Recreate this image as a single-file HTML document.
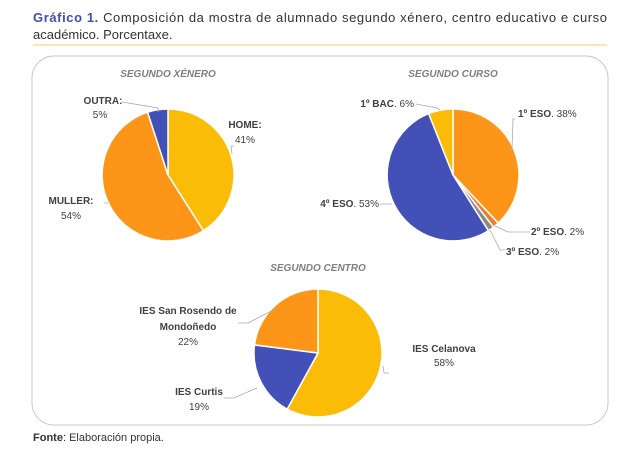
<!DOCTYPE html>
<html><head><meta charset="utf-8"><style>
body{margin:0;background:#fff;width:625px;height:448px;overflow:hidden;font-family:"Liberation Sans",sans-serif;}
</style></head><body>
<svg width="625" height="448" xmlns="http://www.w3.org/2000/svg" font-family="Liberation Sans, sans-serif">
<text x="33" y="22" font-size="13" fill="#333" textLength="574" lengthAdjust="spacing"><tspan fill="#3f4fb0" font-weight="bold">Gráfico 1.</tspan> Composición da mostra de alumnado segundo xénero, centro educativo e curso</text>
<text x="33" y="39" font-size="13" fill="#333">académico. Porcentaxe.</text>
<line x1="33" y1="45" x2="607" y2="45" stroke="#f2cf6e" stroke-width="1"/>
<rect x="32" y="56" width="576" height="369" rx="22" fill="#fff" stroke="#c8c8c8" stroke-width="1"/>
<text x="33" y="441" font-size="11" fill="#333"><tspan font-weight="bold">Fonte</tspan>: Elaboración propia.</text>

<g stroke="#fff" stroke-width="1.5">
<path d="M168 175 L168 109 A66 66 0 0 1 203.4 230.7 Z" fill="#fbbc08"/>
<path d="M168 175 L203.4 230.7 A66 66 0 1 1 147.6 112.2 Z" fill="#fd9618"/>
<path d="M168 175 L147.6 112.2 A66 66 0 0 1 168 109 Z" fill="#4250b8"/>

<path d="M453 175 L453 109 A66 66 0 0 1 498.2 223.1 Z" fill="#fd9618"/>
<path d="M453 175 L498.2 223.1 A66 66 0 0 1 493.5 227.2 Z" fill="#ed7d31"/>
<path d="M453 175 L493.5 227.2 A66 66 0 0 1 488.4 230.7 Z" fill="#8a8a8a"/>
<path d="M453 175 L488.4 230.7 A66 66 0 1 1 428.7 113.6 Z" fill="#4250b8"/>
<path d="M453 175 L428.7 113.6 A66 66 0 0 1 453 109 Z" fill="#fbbc08"/>

<path d="M318 353 L318 289 A64 64 0 1 1 287.2 409.1 Z" fill="#fbbc08"/>
<path d="M318 353 L287.2 409.1 A64 64 0 0 1 254.5 344.9 Z" fill="#4250b8"/>
<path d="M318 353 L254.5 344.9 A64 64 0 0 1 318 289 Z" fill="#fd9618"/>
</g>

<g font-size="10" fill="#7f7f7f" font-style="italic" font-weight="bold" text-anchor="middle">
<text x="168" y="77">SEGUNDO XÉNERO</text>
<text x="453" y="77">SEGUNDO CURSO</text>
<text x="318" y="271">SEGUNDO CENTRO</text>
</g>

<g fill="none" stroke="#aaa" stroke-width="0.8">
<polyline points="122,102 158,108 158,112"/>
<polyline points="232,154 231,146 234,146"/>
<polyline points="108,203 104,203"/>
<polyline points="416,104 437,108 440,110"/>
<polyline points="515,119 513,119 512,150"/>
<polyline points="495,226 508,232 530,232"/>
<polyline points="490,230 500,250 505,250"/>
<polyline points="380,204 392,204"/>
<polyline points="238,323 248,323 277,308"/>
<polyline points="224,398 234,398 257,388"/>
<polyline points="383,366 384,373 389,373" />
</g>

<g font-size="10" fill="#404040">
<text x="103" y="104" text-anchor="middle"><tspan font-weight="bold">OUTRA:</tspan></text>
<text x="100" y="118" text-anchor="middle">5%</text>
<text x="245" y="128" text-anchor="middle" font-weight="bold">HOME:</text>
<text x="245" y="143" text-anchor="middle">41%</text>
<text x="71" y="204" text-anchor="middle" font-weight="bold">MULLER:</text>
<text x="71" y="219" text-anchor="middle">54%</text>

<text x="414" y="107" text-anchor="end"><tspan font-weight="bold">1º BAC</tspan>. 6%</text>
<text x="518" y="117"><tspan font-weight="bold">1º ESO</tspan>. 38%</text>
<text x="531" y="235"><tspan font-weight="bold">2º ESO</tspan>. 2%</text>
<text x="506" y="255"><tspan font-weight="bold">3º ESO</tspan>. 2%</text>
<text x="379" y="207" text-anchor="end"><tspan font-weight="bold">4º ESO</tspan>. 53%</text>

<text x="188" y="314" text-anchor="middle" font-weight="bold">IES San Rosendo de</text>
<text x="188" y="330" text-anchor="middle" font-weight="bold">Mondoñedo</text>
<text x="188" y="345" text-anchor="middle">22%</text>
<text x="444" y="352" text-anchor="middle" font-weight="bold">IES Celanova</text>
<text x="444" y="366" text-anchor="middle">58%</text>
<text x="199" y="395" text-anchor="middle" font-weight="bold">IES Curtis</text>
<text x="199" y="410" text-anchor="middle">19%</text>
</g>
</svg>
</body></html>
